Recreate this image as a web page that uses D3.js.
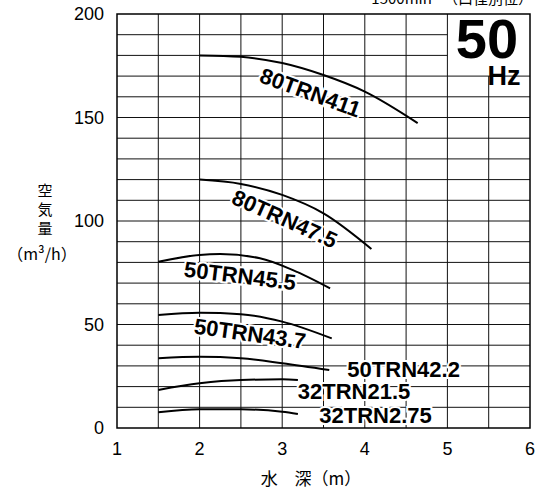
<!DOCTYPE html>
<html>
<head>
<meta charset="utf-8">
<script src="https://cdn.jsdelivr.net/npm/d3@7"></script>
<style>
  body { margin: 0; background: #fff; }
  svg text { font-family: "Liberation Sans", Arial, sans-serif; }
</style>
</head>
<body>
<div id="chart"></div>
<script>
// pump curves: depth (m) vs air flow (m3/h)
const names = ["80TRN411", "80TRN47.5", "50TRN45.5", "50TRN43.7", "50TRN42.2", "32TRN21.5", "32TRN2.75"];
const depths = [
  [2, 2.5, 3, 3.5, 4, 4.64],
  [2, 2.5, 3, 3.5, 4.08],
  [1.5, 2, 2.25, 2.73, 3.13, 3.58],
  [1.5, 2, 2.5, 3, 3.6],
  [1.5, 2, 2.5, 3, 3.57],
  [1.5, 2, 2.5, 3, 3.19],
  [1.5, 2, 2.5, 3, 3.19]
];
const flows = [
  [180, 179.3, 176.3, 170.5, 162.5, 147.3],
  [120, 117.9, 112.6, 103.7, 86.5],
  [80.3, 83.6, 84, 82, 76.3, 67.5],
  [54.6, 55.7, 55, 51.4, 43.3],
  [33.7, 34.4, 33.7, 31.3, 28],
  [18.4, 21.6, 23.2, 23.5, 23.2],
  [7.6, 9, 9, 7.9, 6.8]
];
// label anchor (depth, flow) and angle
const labelAt = [[3.34, 162], [3.03, 101], [2.49, 73.5], [2.61, 45.5], [4.47, 28.5], [3.87, 17.4], [4.13, 5.8]];
const labelRot = [20, 24, 7, 8, 0, 0, 0];
const xTicks = [1, 2, 3, 4, 5, 6];
const yTicks = [0, 50, 100, 150, 200];

const W = 537, H = 492;
const svg = d3.select("#chart").append("svg").attr("width", W).attr("height", H);

const x = d3.scaleLinear().domain([1, 6]).range([117, 530]);
const y = d3.scaleLinear().domain([0, 200]).range([428, 14]);

// header text, cut off at the top edge like the source
svg.append("text").attr("x", 533).attr("y", 4).attr("text-anchor", "end")
  .style("font-family", "'Noto Sans CJK JP', sans-serif").style("font-size", "15px")
  .text("1500min⁻¹（口径別位）");

// grid: vertical every 0.5 m, horizontal every 10 m3/h
const g = svg.append("g");
const vLines = d3.range(1.5, 6, 0.5);
g.selectAll(".v").data(vLines).join("line")
  .attr("x1", d => x(d)).attr("x2", d => x(d))
  .attr("y1", d => d > 5 ? y(170) : y(200)).attr("y2", y(0))
  .attr("stroke", "#111").attr("stroke-width", 1);
const hLines = d3.range(10, 200, 10);
g.selectAll(".h").data(hLines).join("line")
  .attr("x1", x(1)).attr("x2", d => d > 170 ? x(5) : x(6))
  .attr("y1", d => y(d)).attr("y2", d => y(d))
  .attr("stroke", "#111").attr("stroke-width", 1);
g.append("rect").attr("x", x(1)).attr("y", y(200))
  .attr("width", x(6) - x(1)).attr("height", y(0) - y(200))
  .attr("fill", "none").attr("stroke", "#000").attr("stroke-width", 1.5);

// 50 Hz badge
svg.append("text").attr("x", 487).attr("y", 58).attr("text-anchor", "middle")
  .style("font-size", "56px").style("font-weight", "bold").text("50");
svg.append("text").attr("x", 504).attr("y", 85).attr("text-anchor", "middle")
  .style("font-size", "27px").style("font-weight", "bold").text("Hz");

// tick labels
svg.selectAll(".xt").data(xTicks).join("text")
  .attr("x", d => x(d)).attr("y", 455).attr("text-anchor", "middle")
  .style("font-size", "18px").text(d => d);
svg.selectAll(".yt").data(yTicks).join("text")
  .attr("x", 104).attr("y", d => y(d) + 6).attr("text-anchor", "end")
  .style("font-size", "18px").text(d => d);

const cjk = "'Noto Sans CJK JP', sans-serif";
["空", "気", "量"].forEach((c, i) => {
  svg.append("text").attr("x", 45).attr("y", 196 + i * 19).attr("text-anchor", "middle")
    .style("font-family", cjk).style("font-size", "15px").text(c);
});
svg.append("text").attr("x", 42).attr("y", 260).attr("text-anchor", "middle")
  .style("font-family", cjk).style("font-size", "16px").text("（m³/h）");
svg.append("text").attr("x", 311).attr("y", 485).attr("text-anchor", "middle")
  .style("font-family", cjk).style("font-size", "17px").text("水　深（m）");

// curves
const line = d3.line().x(d => x(d[0])).y(d => y(d[1])).curve(d3.curveMonotoneX);
names.forEach((n, i) => {
  const pts = depths[i].map((d, j) => [d, flows[i][j]]);
  svg.append("path").attr("d", line(pts))
    .attr("fill", "none").attr("stroke", "#000").attr("stroke-width", 2);
});

// curve labels
names.forEach((n, i) => {
  svg.append("text")
    .attr("transform", `translate(${x(labelAt[i][0])},${y(labelAt[i][1])}) rotate(${labelRot[i]})`)
    .attr("text-anchor", "middle").attr("dominant-baseline", "central")
    .style("font-size", "22px").style("font-weight", "bold")
    .attr("stroke", "#fff").attr("stroke-width", 4).attr("paint-order", "stroke")
    .attr("fill", "#000").text(n);
});
</script>
</body>
</html>
